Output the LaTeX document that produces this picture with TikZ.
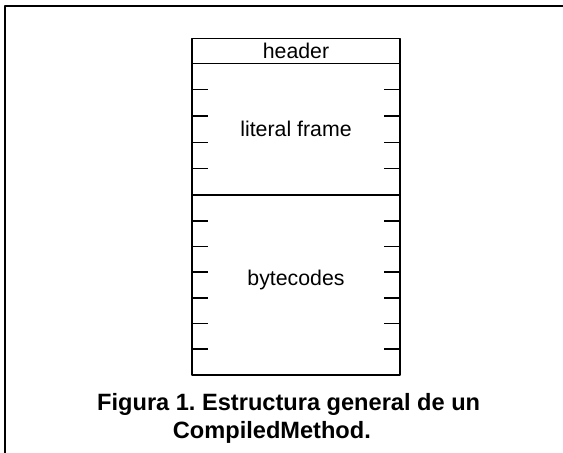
\documentclass[tikz,border=0pt]{standalone}
\usepackage{fontspec}
\setmainfont{Liberation Sans}
\frenchspacing
\usetikzlibrary{positioning,calc}
\begin{document}
\begin{tikzpicture}[x=1pt,y=-1pt,line join=round,
  cell/.style={draw,line width=1.6pt,outer sep=0pt,inner sep=0pt,minimum width=208pt,font=\fontsize{21.3}{25}\selectfont},
  tick/.style={line width=1.6pt},
  caption/.style={inner sep=0pt,anchor=base west,font=\fontsize{23.6}{28}\selectfont\bfseries}]
\useasboundingbox (0,0) rectangle (563,453);
% marco exterior
\draw[line width=2pt] (5,453) -- (5,6) -- (563,6);
% CompiledMethod
\node[cell,minimum height=25pt,anchor=north west] (header) at (192,38.3) {header};
\node[cell,minimum height=131.7pt,below=0pt of header] (literal) {literal frame};
\node[cell,minimum height=180pt,below=0pt of literal] (bytecodes) {};
\node[font=\fontsize{21.3}{25}\selectfont,inner sep=0pt] (bctext) at ([yshift=5pt]bytecodes.center) {bytecodes};
\foreach \k in {1,...,4}{
  \draw[tick] ($(literal.north west)!\k/5!(literal.south west)$) -- ++(16,0);
  \draw[tick] ($(literal.north east)!\k/5!(literal.south east)$) -- ++(-16,0);
}
\foreach \k in {1,...,6}{
  \draw[tick] ($(bytecodes.north west)!\k/7!(bytecodes.south west)$) -- ++(16,0);
  \draw[tick] ($(bytecodes.north east)!\k/7!(bytecodes.south east)$) -- ++(-16,0);
}
% pie de figura
\node[caption] (cap1) at (97,410) {Figura 1. Estructura general de un};
\node[caption] (cap2) at (172.7,438) {CompiledMethod.};
\end{tikzpicture}
\end{document}
